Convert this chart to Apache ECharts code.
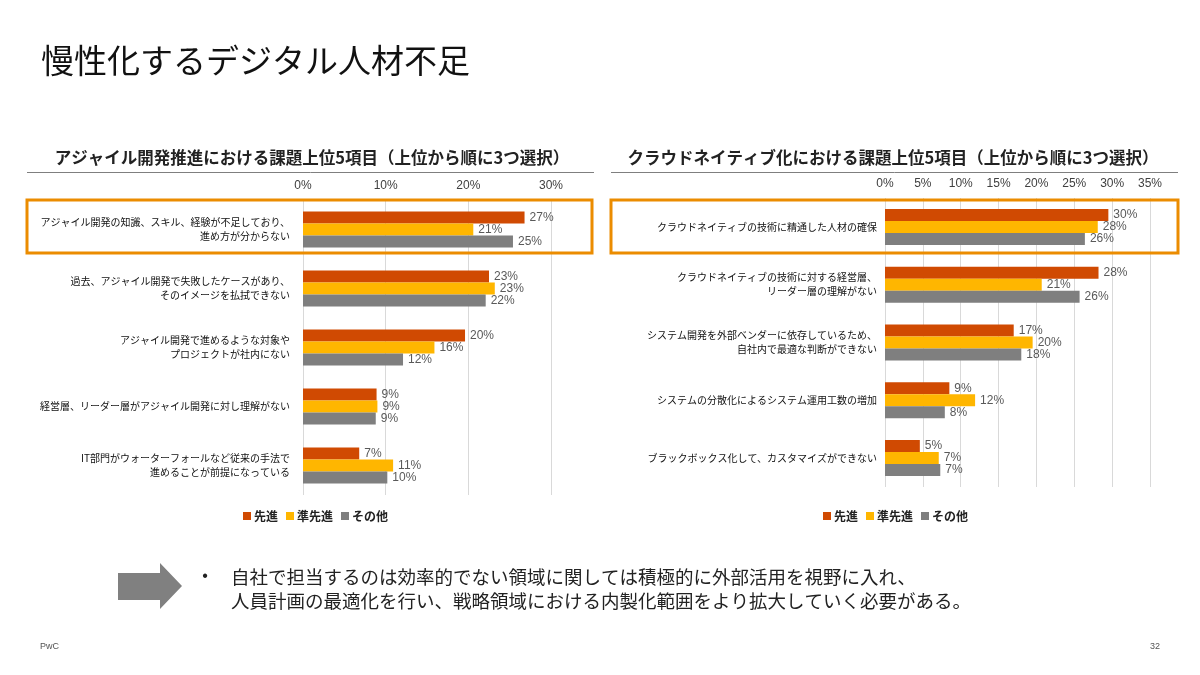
<!DOCTYPE html>
<html>
<head>
<meta charset="utf-8">
<script src="https://cdn.jsdelivr.net/npm/echarts@6/dist/echarts.min.js"></script>
<style>
  html, body { margin: 0; padding: 0; background: #fff; }
  #main { width: 1200px; height: 675px; }
</style>
</head>
<body>
<div id="main"></div>
<script>
// 凡例
const seriesNames = ['先進', '準先進', 'その他'];
const colors = ['#D04A02', '#FFB600', '#7F7F7F'];

// 左：アジャイル開発
const agileCats = [
  'アジャイル開発の知識、スキル、経験が不足しており、\n進め方が分からない',
  '過去、アジャイル開発で失敗したケースがあり、\nそのイメージを払拭できない',
  'アジャイル開発で進めるような対象や\nプロジェクトが社内にない',
  '経営層、リーダー層がアジャイル開発に対し理解がない',
  'IT部門がウォーターフォールなど従来の手法で\n進めることが前提になっている'
];
const agileSenshin = [26.8, 22.5, 19.6, 8.9, 6.8];
const agileJun = [20.6, 23.2, 15.9, 9.0, 10.9];
const agileOther = [25.4, 22.1, 12.1, 8.8, 10.2];

// 右：クラウドネイティブ
const cloudCats = [
  'クラウドネイティブの技術に精通した人材の確保',
  'クラウドネイティブの技術に対する経営層、\nリーダー層の理解がない',
  'システム開発を外部ベンダーに依存しているため、\n自社内で最適な判断ができない',
  'システムの分散化によるシステム運用工数の増加',
  'ブラックボックス化して、カスタマイズができない'
];
const cloudSenshin = [29.5, 28.2, 17.0, 8.5, 4.6];
const cloudJun = [28.1, 20.7, 19.5, 11.9, 7.1];
const cloudOther = [26.4, 25.7, 18.0, 7.9, 7.3];

const JP = "'Noto Sans CJK JP', sans-serif";
const LAT = "'Liberation Sans', Arial, sans-serif";

const chart = echarts.init(document.getElementById('main'));

function barSeries(name, idx, data, color) {
  return {
    name: name,
    type: 'bar',
    xAxisIndex: idx,
    yAxisIndex: idx,
    data: data,
    barWidth: 12,
    barGap: '0%',
    itemStyle: { color: color },
    label: {
      show: true,
      position: 'right',
      distance: 5,
      fontFamily: LAT,
      fontSize: 12,
      color: '#595959',
      formatter: function (p) { return Math.round(p.value) + '%'; }
    },
    animation: false
  };
}

function xAxisCfg(idx, max, interval) {
  return {
    gridIndex: idx,
    type: 'value',
    position: 'top',
    min: 0,
    max: max,
    interval: interval,
    axisLine: { show: false },
    axisTick: { show: false },
    splitLine: { lineStyle: { color: '#D9D9D9', width: 1 } },
    axisLabel: {
      formatter: '{value}%',
      fontFamily: LAT,
      fontSize: 12,
      color: '#404040',
      margin: 8
    }
  };
}

function yAxisCfg(idx, cats, margin) {
  return {
    gridIndex: idx,
    type: 'category',
    data: cats,
    inverse: true,
    axisLine: { show: false },
    axisTick: { show: false },
    axisLabel: {
      fontFamily: JP,
      fontSize: 10,
      color: '#111',
      lineHeight: 14,
      align: 'right',
      margin: margin
    }
  };
}

function legendCfg(left) {
  return {
    data: seriesNames,
    left: left, top: 505,
    icon: 'rect', itemWidth: 8, itemHeight: 8, itemGap: 8,
    textStyle: { fontFamily: JP, fontSize: 12, fontWeight: 'bold', color: '#222', padding: [0, 0, 0, -2] },
    selectedMode: false
  };
}

const option = {
  backgroundColor: '#fff',
  textStyle: { fontFamily: JP },
  grid: [
    { left: 303, top: 200, width: 248, height: 295 },
    { left: 885, top: 198, width: 265, height: 289 }
  ],
  xAxis: [xAxisCfg(0, 30, 10), xAxisCfg(1, 35, 5)],
  yAxis: [yAxisCfg(0, agileCats, 13), yAxisCfg(1, cloudCats, 8)],
  legend: [legendCfg(238), legendCfg(818)],
  series: [
    barSeries(seriesNames[0], 0, agileSenshin, colors[0]),
    barSeries(seriesNames[1], 0, agileJun, colors[1]),
    barSeries(seriesNames[2], 0, agileOther, colors[2]),
    barSeries(seriesNames[0], 1, cloudSenshin, colors[0]),
    barSeries(seriesNames[1], 1, cloudJun, colors[1]),
    barSeries(seriesNames[2], 1, cloudOther, colors[2])
  ],
  graphic: [
    // スライドタイトル
    {
      type: 'text', left: 41, top: 44,
      style: { text: '慢性化するデジタル人材不足', font: "33px 'Noto Sans CJK JP'", fill: '#111' }
    },
    // 左チャートタイトル
    {
      type: 'text', x: 312, y: 158,
      style: {
        text: 'アジャイル開発推進における課題上位5項目（上位から順に3つ選択）',
        font: "bold 16.5px 'Noto Sans CJK JP'", fill: '#222', align: 'center', verticalAlign: 'middle'
      }
    },
    { type: 'line', shape: { x1: 27, y1: 172.5, x2: 594, y2: 172.5 }, style: { stroke: '#7F7F7F', lineWidth: 1 } },
    // 右チャートタイトル
    {
      type: 'text', x: 893, y: 158,
      style: {
        text: 'クラウドネイティブ化における課題上位5項目（上位から順に3つ選択）',
        font: "bold 16.5px 'Noto Sans CJK JP'", fill: '#222', align: 'center', verticalAlign: 'middle'
      }
    },
    { type: 'line', shape: { x1: 611, y1: 172.5, x2: 1178, y2: 172.5 }, style: { stroke: '#7F7F7F', lineWidth: 1 } },
    // 強調枠
    { type: 'rect', shape: { x: 27, y: 200, width: 565, height: 53 }, style: { fill: 'none', stroke: '#EB8C00', lineWidth: 3 }, z: 10 },
    { type: 'rect', shape: { x: 611, y: 200, width: 567, height: 53 }, style: { fill: 'none', stroke: '#EB8C00', lineWidth: 3 }, z: 10 },
    // 矢印
    {
      type: 'polygon',
      shape: { points: [[118, 573], [160, 573], [160, 563], [182, 586], [160, 609], [160, 600], [118, 600]] },
      style: { fill: '#808080' }
    },
    // 箇条書き
    {
      type: 'text', x: 205, y: 577,
      style: { text: '•', font: "16px 'Liberation Sans'", fill: '#222', align: 'center', verticalAlign: 'middle' }
    },
    {
      type: 'text', x: 231, y: 565,
      style: {
        text: '自社で担当するのは効率的でない領域に関しては積極的に外部活用を視野に入れ、\n人員計画の最適化を行い、戦略領域における内製化範囲をより拡大していく必要がある。',
        font: "18.5px 'Noto Sans CJK JP'", fill: '#222', lineHeight: 24
      }
    },
    // フッター
    { type: 'text', x: 40, y: 647, style: { text: 'PwC', font: "9px 'Liberation Sans'", fill: '#555', verticalAlign: 'middle' } },
    { type: 'text', x: 1155, y: 647, style: { text: '32', font: "9px 'Liberation Sans'", fill: '#555', align: 'center', verticalAlign: 'middle' } }
  ]
};

chart.setOption(option);
</script>
</body>
</html>
